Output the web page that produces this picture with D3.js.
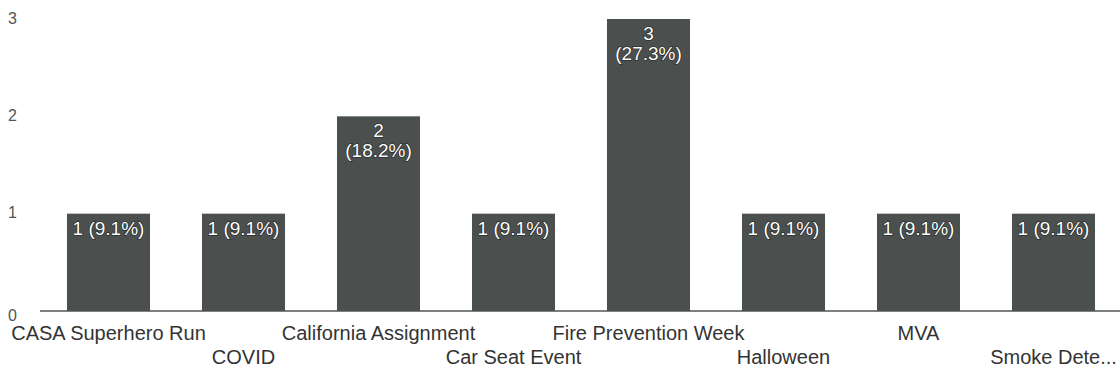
<!DOCTYPE html>
<html><head><meta charset="utf-8">
<script src="https://cdn.jsdelivr.net/npm/d3@7/dist/d3.min.js"></script>
<style>body{margin:0;background:#fff}svg{display:block}</style>
</head><body><svg id="c" width="1120" height="376"></svg>
<script>
const categories = ["CASA Superhero Run","COVID","California Assignment","Car Seat Event","Fire Prevention Week","Halloween","MVA","Smoke Dete..."];
const values = [1,1,2,1,3,1,1,1];
const percents = ["9.1%","9.1%","18.2%","9.1%","27.3%","9.1%","9.1%","9.1%"];
const yTicks = [0,1,2,3];

const svg = d3.select("#c");
const x = d3.scaleBand().domain(categories).range([41,1121]).paddingInner(0.385).paddingOuter(0.1925);
const y = d3.scaleLinear().domain([0,3]).range([311,19]);
const font = "'Liberation Sans', Arial, sans-serif";

// baseline
svg.append("line").attr("x1",40).attr("x2",1120).attr("y1",y(0)).attr("y2",y(0))
  .attr("stroke","#555").attr("stroke-width",1.5);

// y tick labels
svg.append("g").selectAll("text").data(yTicks).join("text")
  .attr("x",8).attr("y",d=>y(d)+(d===0?4:-1)).attr("dy","0.35em")
  .attr("font-family",font).attr("font-size",16).attr("fill","#555").text(d=>d);

// bars
svg.append("g").selectAll("rect").data(values).join("rect")
  .attr("x",(d,i)=>x(categories[i])).attr("width",x.bandwidth())
  .attr("y",d=>y(d)).attr("height",d=>y(0)-y(d)).attr("fill","#4b504f");

// bar labels
const lab = svg.append("g").attr("font-family",font).attr("font-size",19).attr("fill","#fff")
  .attr("stroke","#1e2222").attr("stroke-width",1.2).attr("paint-order","stroke").attr("text-anchor","middle");
values.forEach((v,i)=>{
  const cx = x(categories[i]) + x.bandwidth()/2;
  if (v >= 2) {
    lab.append("text").attr("x",cx).attr("y",y(v)+21).text(v);
    lab.append("text").attr("x",cx).attr("y",y(v)+41).text("("+percents[i]+")");
  } else {
    lab.append("text").attr("x",cx).attr("y",y(v)+21).text(v+" ("+percents[i]+")");
  }
});

// x labels, staggered
svg.append("g").selectAll("text").data(categories).join("text")
  .attr("x",d=>x(d)+x.bandwidth()/2).attr("y",(d,i)=>i%2===0?340:364)
  .attr("text-anchor","middle").attr("font-family",font).attr("font-size",20).attr("fill","#333")
  .text(d=>d);
</script></body></html>
